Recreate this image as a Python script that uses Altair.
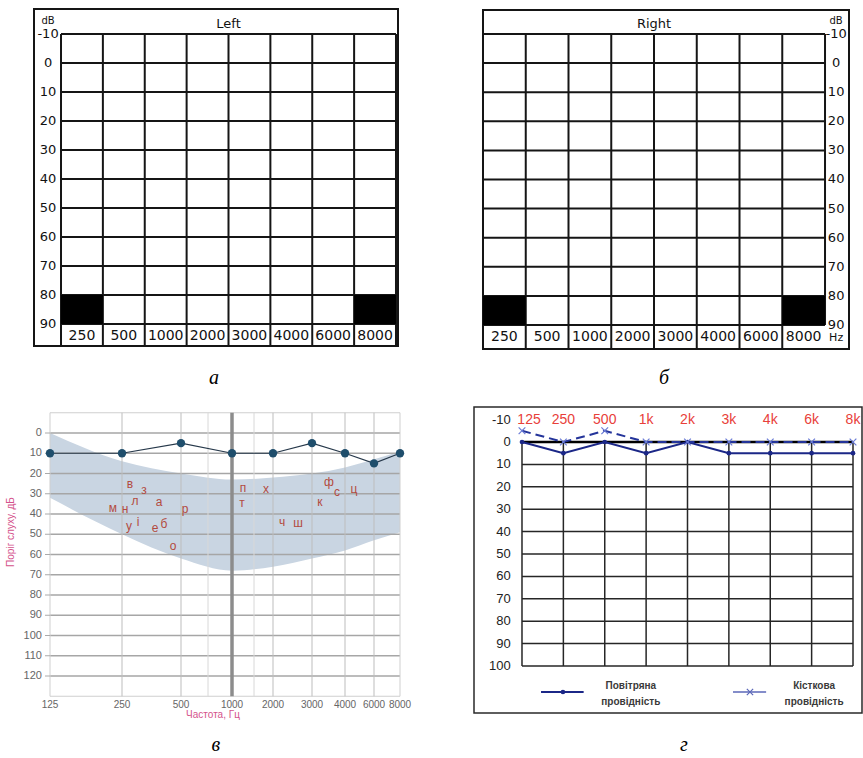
import altair as alt
import pandas as pd

# ------------------------------------------------------------------ data
# а, б – blank audiogram forms (left / right ear)
form_titles = ["Left", "Right"]
form_freq_labels = ["250", "500", "1000", "2000", "3000", "4000", "6000", "8000"]
form_db_levels = [-10, 0, 10, 20, 30, 40, 50, 60, 70, 80, 90]
form_masked_columns = [0, 7]
form_masked_db = [80, 90]
form_unit_db = "dB"
form_unit_hz = "Hz"

# в – audiogram with the speech banana
v_freqs = [125, 250, 500, 1000, 2000, 3000, 4000, 6000, 8000]
v_minor_freqs = [750, 1500]
v_main_freq = 1000
v_threshold_db = [10, 10, 5, 10, 10, 5, 10, 15, 10]
v_band_upper_db = [0, 14, 20, 23, 22, 20, 17, 13, 9]
v_band_lower_db = [32, 50, 62, 68, 66, 62, 58, 53, 49]
v_db_ticks = [0, 10, 20, 30, 40, 50, 60, 70, 80, 90, 100, 110, 120]
v_db_limits = [-10, 130]
v_letters = ["в", "з", "м", "н", "л", "а", "р", "у", "і", "е", "б", "о",
             "п", "т", "х", "ч", "ш", "ф", "с", "ц", "к"]
v_letter_freq = [284, 343, 234, 263, 305, 407, 537, 280, 318, 390, 428, 466,
                 1250, 1227, 1816, 2231, 2641, 3515, 3758, 4621, 3242]
v_letter_db = [25, 28, 37, 37.5, 33.5, 34, 37.5, 46, 44, 47, 45, 56,
               27, 34.5, 27.7, 44, 44.5, 24.3, 29, 27.7, 34]
v_x_title = "Частота, Гц"
v_y_title = "Поріг слуху, дБ"

# г – air / bone conduction audiogram
g_freq_labels = ["125", "250", "500", "1k", "2k", "3k", "4k", "6k", "8k"]
g_air_db = [0, 5, 0, 5, 0, 5, 5, 5, 5]
g_bone_db = [-5, 0, -5, 0, 0, 0, 0, 0, 0]
g_db_ticks = [-10, 0, 10, 20, 30, 40, 50, 60, 70, 80, 90, 100]
g_legend_line1 = ["Повітряна", "Кісткова"]
g_legend_line2 = ["провідність", "провідність"]

captions = ["а", "б", "в", "г"]

CAP_FONT = "Liberation Serif"
FORM_FONT = "DejaVu Sans"
SANS = "Liberation Sans"
NOSTROKE = alt.ViewBackground(stroke="transparent", strokeWidth=0)


def lin(domain, reverse=False, rng=None):
    kw = dict(domain=domain, nice=False, zero=False)
    if reverse:
        kw["reverse"] = True
    if rng is not None:
        kw["range"] = rng
    return alt.Scale(**kw)


def caption_layer(text, x, y, X, Y):
    df = pd.DataFrame({"t": [text], "x": [x], "y": [y]})
    return alt.Chart(df).mark_text(font=CAP_FONT, fontStyle="italic", fontSize=20,
                                   color="#000", align="center", baseline="middle").encode(
        x=X("x"), y=Y("y"), text="t:N")


# ------------------------------------------------------------------ а / б
def form_panel(k):
    left = k == 0
    n = len(form_freq_labels)
    top_db, bot_db = form_db_levels[0], form_db_levels[-1]
    if left:
        xdom = [-0.645, 8.048]; ydom = [-18.62, 98.62]
        frame = (-0.645, 8.048, -18.62, 97.59)
        lab_x = -0.31; w = 364
        cap_xy = (3.654, 108.6); unit_y = -14.5
    else:
        xdom = [-0.2105, 8.561]; ydom = [-18.59, 98.25]
        frame = (0, 8.561, -18.25, 98.25)
        lab_x = 8.26; w = 375
        cap_xy = (4.234, 108.2); unit_y = -14.3
    xs = lin(xdom)
    ys = lin(ydom, reverse=True)

    def X(f):
        return alt.X(f, type="quantitative", scale=xs, axis=None)

    def Y(f):
        return alt.Y(f, type="quantitative", scale=ys, axis=None)

    ink = "#151515"
    fr_df = pd.DataFrame({"x0": [frame[0]], "x1": [frame[1]], "y0": [frame[2]], "y1": [frame[3]]})
    fr = alt.Chart(fr_df).mark_rect(fillOpacity=0, stroke=ink, strokeWidth=2).encode(
        x=X("x0"), x2="x1", y=Y("y0"), y2="y1")

    h_df = pd.DataFrame({"db": form_db_levels})
    h_df["x0"] = 0
    h_df["x1"] = n
    hl = alt.Chart(h_df).mark_rule(color=ink, strokeWidth=2).encode(x=X("x0"), x2="x1", y=Y("db"))

    v_df = pd.DataFrame({"i": list(range(n + 1))})
    v_df["y0"] = top_db
    v_df["y1"] = frame[3]
    if not left:
        v_df.loc[n, "y1"] = bot_db
    vl = alt.Chart(v_df).mark_rule(color=ink, strokeWidth=2).encode(x=X("i"), y=Y("y0"), y2="y1")

    m_df = pd.DataFrame({"c0": form_masked_columns,
                         "c1": [c + 1 for c in form_masked_columns]})
    m_df["d0"] = form_masked_db[0]
    m_df["d1"] = form_masked_db[1]
    masks = alt.Chart(m_df).mark_rect(color="#000").encode(x=X("c0"), x2="c1", y=Y("d0"), y2="d1")

    yl_df = pd.DataFrame({"db": form_db_levels, "label": [str(d) for d in form_db_levels]})
    yl_df["x"] = lab_x
    ylab = alt.Chart(yl_df).mark_text(font=FORM_FONT, fontSize=13, color="#111",
                                      align="center", baseline="middle").encode(
        x=X("x"), y=Y("db"), text="label:N")

    bl_df = pd.DataFrame({"label": form_freq_labels,
                          "x": [i + 0.5 for i in range(n)]})
    bl_df["y"] = 94.1
    blab = alt.Chart(bl_df).mark_text(font=FORM_FONT, fontSize=14, color="#111",
                                      align="center", baseline="middle").encode(
        x=X("x"), y=Y("y"), text="label:N")

    t_rows = [{"t": form_titles[k], "x": n / 2, "y": -13.4, "s": 13},
              {"t": form_unit_db, "x": lab_x, "y": unit_y, "s": 10}]
    if not left:
        t_rows.append({"t": form_unit_hz, "x": lab_x, "y": 94.6, "s": 11})
    t_df = pd.DataFrame(t_rows)
    tlab = alt.Chart(t_df).mark_text(font=FORM_FONT, color="#111", align="center",
                                     baseline="middle").encode(
        x=X("x"), y=Y("y"), text="t:N",
        size=alt.Size("s:Q", scale=None, legend=None))

    cap = caption_layer(captions[k], cap_xy[0], cap_xy[1], X, Y)

    return alt.layer(fr, hl, vl, masks, ylab, blab, tlab, cap).properties(
        width=w, height=340, view=NOSTROKE)


# ------------------------------------------------------------------ в
v_grid_freqs = sorted(v_freqs + v_minor_freqs)
xs_v = lin(v_grid_freqs, rng=[16, 88, 147, 174, 198, 220, 239, 278, 311, 340, 366])
ys_v = lin([-12.84, 138.27], reverse=True)


def XV(f):
    return alt.X(f, type="quantitative", scale=xs_v, axis=None)


def YV(f):
    return alt.Y(f, type="quantitative", scale=ys_v, axis=None)


band_df = pd.DataFrame({"freq": v_freqs, "upper": v_band_upper_db, "lower": v_band_lower_db})
band = alt.Chart(band_df).mark_area(color="#c9d5e2", interpolate="monotone").encode(
    x=XV("freq"), y=YV("upper"), y2="lower")

hg_df = pd.DataFrame({"db": v_db_ticks})
hg_df["f0"] = v_freqs[0]
hg_df["f1"] = v_freqs[-1]
hgrid = alt.Chart(hg_df).mark_rule(color="#a6a6a6", strokeWidth=1.6).encode(
    x=XV("f0"), x2="f1", y=YV("db"))

hb_df = pd.DataFrame({"db": v_db_limits})
hb_df["f0"] = v_freqs[0]
hb_df["f1"] = v_freqs[-1]
hborder = alt.Chart(hb_df).mark_rule(color="#cfcfcf", strokeWidth=1).encode(
    x=XV("f0"), x2="f1", y=YV("db"))


def vrules(freqs, color, width):
    df = pd.DataFrame({"freq": freqs})
    df["d0"] = v_db_limits[0]
    df["d1"] = v_db_limits[1]
    return alt.Chart(df).mark_rule(color=color, strokeWidth=width).encode(
        x=XV("freq"), y=YV("d0"), y2="d1")


inner = [f for f in v_freqs[1:-1] if f != v_main_freq]
vgrid = vrules(inner, "#bdbdbd", 1)
vminor = vrules(v_minor_freqs, "#d8d8d8", 1)
vborder = vrules([v_freqs[0], v_freqs[-1]], "#cfcfcf", 1)
vmain = vrules([v_main_freq], "#8c8c8c", 3.5)

# tick labels, ticks and titles of panel в (drawn in its own data space)
v_label_freq = 111      # just left of the 125 Hz edge
v_tick_freq = 116.3
v_xlabel_db = 134.3
tk_df = pd.DataFrame({"db": v_db_ticks})
tk_df["f0"] = v_tick_freq
tk_df["f1"] = v_freqs[0]
vticks = alt.Chart(tk_df).mark_rule(color="#aaaaaa", strokeWidth=1).encode(
    x=XV("f0"), x2="f1", y=YV("db"))
yl_df = pd.DataFrame({"db": v_db_ticks, "t": [str(d) for d in v_db_ticks]})
yl_df["f"] = v_label_freq
vylab = alt.Chart(yl_df).mark_text(font=SANS, fontSize=11, color="#666666",
                                   align="right", baseline="middle").encode(
    x=XV("f"), y=YV("db"), text="t:N")
xl_df = pd.DataFrame({"freq": v_freqs, "t": [str(f) for f in v_freqs]})
xl_df["db"] = v_xlabel_db
vxlab = alt.Chart(xl_df).mark_text(font=SANS, fontSize=10, color="#666666",
                                   align="center", baseline="middle").encode(
    x=XV("freq"), y=YV("db"), text="t:N")
vt_df = pd.DataFrame({"t": [v_x_title, v_y_title], "f": [802, 57.3], "db": [139.3, 48.9],
                      "a": [0, 270]})
vtitles = alt.Chart(vt_df).mark_text(font=SANS, fontSize=10, color="#d4528c",
                                     align="center", baseline="middle").encode(
    x=XV("f"), y=YV("db"), text="t:N",
    angle=alt.Angle("a:Q", scale=None))

thr_df = pd.DataFrame({"freq": v_freqs, "db": v_threshold_db})
thr_line = alt.Chart(thr_df).mark_line(color="#26384a", strokeWidth=1.2).encode(
    x=XV("freq"), y=YV("db"))
thr_pts = alt.Chart(thr_df).mark_circle(size=70, color="#1f4e6c", opacity=1).encode(
    x=XV("freq"), y=YV("db"))

let_df = pd.DataFrame({"t": v_letters, "freq": v_letter_freq, "db": v_letter_db})
letters = alt.Chart(let_df).mark_text(font=SANS, fontSize=12, color="#b34a40",
                                      align="center", baseline="middle").encode(
    x=XV("freq"), y=YV("db"), text="t:N")

cap_v = caption_layer(captions[2], 833, 154.1, XV, YV)

panel_v = alt.layer(band, hgrid, hborder, vgrid, vminor, vborder, vmain, vticks,
                    vylab, vxlab, vtitles, thr_line, thr_pts, letters, cap_v).properties(
    width=364, height=306, view=NOSTROKE)

# ------------------------------------------------------------------ г
xs_g = lin([-1.160, 8.2175])
ys_g = lin([-15.625, 120.98], reverse=True)


def XG(f):
    return alt.X(f, type="quantitative", scale=xs_g, axis=None)


def YG(f):
    return alt.Y(f, type="quantitative", scale=ys_g, axis=None)


ng = len(g_freq_labels) - 1
grid_db = [d for d in g_db_ticks if d >= 0]
gh_df = pd.DataFrame({"db": [d for d in grid_db if d != 0]})
gh_df["x0"] = 0
gh_df["x1"] = ng
g_hgrid = alt.Chart(gh_df).mark_rule(color="#262626", strokeWidth=1.5).encode(
    x=XG("x0"), x2="x1", y=YG("db"))
gz_df = pd.DataFrame({"db": [0], "x0": [0], "x1": [ng]})
g_zero = alt.Chart(gz_df).mark_rule(color="#000", strokeWidth=2.5).encode(
    x=XG("x0"), x2="x1", y=YG("db"))
gv_df = pd.DataFrame({"i": list(range(ng + 1))})
gv_df["d0"] = grid_db[0]
gv_df["d1"] = grid_db[-1]
g_vgrid = alt.Chart(gv_df).mark_rule(color="#262626", strokeWidth=1.5).encode(
    x=XG("i"), y=YG("d0"), y2="d1")

gy_df = pd.DataFrame({"db": g_db_ticks, "t": [str(d) for d in g_db_ticks]})
gy_df["x"] = -0.27
g_ylab = alt.Chart(gy_df).mark_text(font=SANS, fontSize=13, color="#222",
                                    align="right", baseline="middle").encode(
    x=XG("x"), y=YG("db"), text="t:N")

gf_df = pd.DataFrame({"i": list(range(ng + 1)), "t": g_freq_labels})
gf_df["db"] = g_db_ticks[0]
gf_df["xpos"] = [i + (0.17 if i == 0 else 0) for i in gf_df["i"]]
g_flab = alt.Chart(gf_df).mark_text(font="Liberation Sans Narrow, Liberation Sans", fontSize=14,
                                    color="#e8403a", align="center", baseline="middle").encode(
    x=XG("xpos"), y=YG("db"), text="t:N")

ser_df = pd.DataFrame({"i": list(range(ng + 1)), "air": g_air_db, "bone": g_bone_db})
air_line = alt.Chart(ser_df).mark_line(color="#1b2787", strokeWidth=2).encode(
    x=XG("i"), y=YG("air"))
air_pts = alt.Chart(ser_df).mark_point(filled=True, shape="circle", size=22,
                                       color="#1b2787", opacity=1).encode(
    x=XG("i"), y=YG("air"))
XSHAPE = "M-1,-1L1,1M-1,1L1,-1"
bone_line = alt.Chart(ser_df).mark_line(color="#24349a", strokeWidth=2,
                                        strokeDash=[9, 5]).encode(
    x=XG("i"), y=YG("bone"))
bone_pts = alt.Chart(ser_df).mark_point(shape=XSHAPE, size=45, color="#6b7cd6",
                                        strokeWidth=1.2, opacity=1).encode(
    x=XG("i"), y=YG("bone"))

lg_line_df = pd.DataFrame({"x0": [0.46], "x1": [1.49], "y": [111.6]})
lg_air_line = alt.Chart(lg_line_df).mark_rule(color="#1b2787", strokeWidth=2).encode(
    x=XG("x0"), x2="x1", y=YG("y"))
lg_air_pt = alt.Chart(pd.DataFrame({"x": [0.99], "y": [111.6]})).mark_point(
    filled=True, shape="circle", size=22, color="#1b2787", opacity=1).encode(
    x=XG("x"), y=YG("y"))
lg_bone_df = pd.DataFrame({"x0": [5.10], "x1": [5.90], "y": [111.6]})
lg_bone_line = alt.Chart(lg_bone_df).mark_rule(color="#5b67b8", strokeWidth=1.3).encode(
    x=XG("x0"), x2="x1", y=YG("y"))
lg_bone_pt = alt.Chart(pd.DataFrame({"x": [5.51], "y": [111.6]})).mark_point(
    shape=XSHAPE, size=40, color="#5b67b8", strokeWidth=1.2, opacity=1).encode(
    x=XG("x"), y=YG("y"))
lg_txt_df = pd.DataFrame({
    "t": g_legend_line1 + g_legend_line2,
    "x": [2.63, 7.06, 2.63, 7.06],
    "y": [108.9, 108.9, 116.1, 116.1],
})
lg_txt = alt.Chart(lg_txt_df).mark_text(font=SANS, fontSize=10, fontWeight="bold",
                                        color="#3a3a3a", align="center",
                                        baseline="middle").encode(
    x=XG("x"), y=YG("y"), text="t:N")

cap_g = caption_layer(captions[3], 3.915, 135.3, XG, YG)

panel_g = alt.layer(g_hgrid, g_vgrid, g_zero, g_ylab, g_flab, air_line, bone_line,
                    air_pts, bone_pts, lg_air_line, lg_air_pt, lg_bone_line,
                    lg_bone_pt, lg_txt, cap_g).properties(
    width=388, height=306, view=alt.ViewBackground(stroke="#2a2a2a", strokeWidth=1.5))

# ------------------------------------------------------------------ layout
chart = alt.concat(form_panel(0), form_panel(1), panel_v, panel_g,
                   columns=2, spacing={"row": 58, "column": 76},
                   bounds="flush").properties(
    padding={"left": 6, "top": 8, "right": 0, "bottom": 0},
    background="white")

chart.save("out.html", embed_options={"renderer": "svg", "actions": False})
